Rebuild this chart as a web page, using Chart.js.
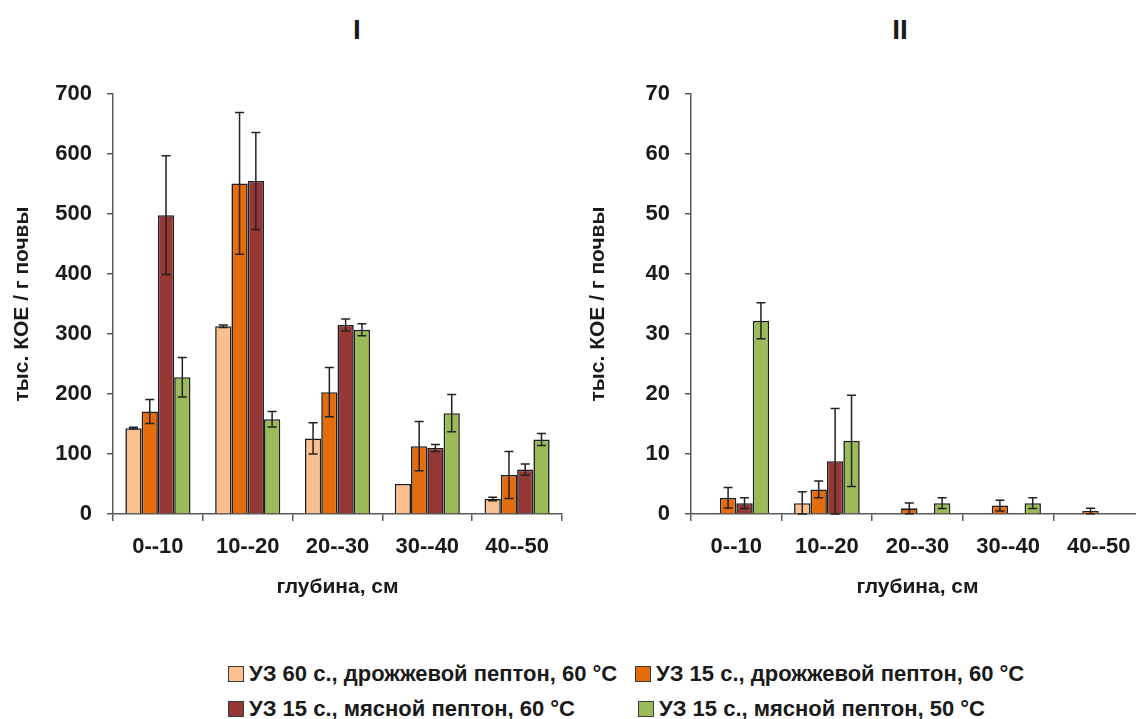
<!DOCTYPE html>
<html lang="ru">
<head>
<meta charset="utf-8">
<script src="https://cdn.jsdelivr.net/npm/chart.js@4.4.1/dist/chart.umd.min.js"></script>
<style>
  html, body { margin: 0; padding: 0; background: #fff; overflow: hidden; }
  body { width: 1136px; height: 719px; position: relative; font-family: "Liberation Sans", Arial, sans-serif; font-weight: bold; color: #1a1a1a; }
  .box { position: absolute; }
  .title { position: absolute; font-size: 28px; transform: translate(-50%, -50%); top: 30px; }
  .leg { position: absolute; font-size: 22px; white-space: nowrap; line-height: 24px; }
  .leg i { display: inline-block; width: 14px; height: 14px; border: 1px solid #3a3a3a; margin-right: 5px; vertical-align: -1px; }
</style>
</head>
<body>
<div class="title" style="left:357px">I</div>
<div class="title" style="left:900px">II</div>
<div class="box" style="left:0;top:0;width:580px;height:640px"><canvas id="chartI"></canvas></div>
<div class="box" style="left:576px;top:0;width:570px;height:640px"><canvas id="chartII"></canvas></div>
<div id="legend"></div>
<script>
"use strict";

const depths = ["0--10", "10--20", "20--30", "30--40", "40--50"];

const seriesNames = [
  "УЗ 60 с., дрожжевой пептон, 60 °C",
  "УЗ 15 с., дрожжевой пептон, 60 °C",
  "УЗ 15 с., мясной пептон, 60 °C",
  "УЗ 15 с., мясной пептон, 50 °C"
];
const seriesColors = ["#FAC090", "#E46C0A", "#953735", "#9BBB59"];

// I
const yeast60I = [143, 313, 126, 50, 25];
const yeast15I = [171, 551, 203, 113, 65];
const meat60I = [498, 555, 315, 110, 74];
const meat50I = [228, 158, 307, 168, 124];
const yeast60IErr = [1.5, 2, 26, 0, 3];
const yeast15IErr = [20, 118, 41, 41, 39];
const meat60IErr = [99, 81, 10, 6, 9.5];
const meat50IErr = [33, 13, 10, 31, 10];

// II
const yeast60II = [null, 1.8, null, null, null];
const yeast15II = [2.7, 4.1, 0.95, 1.4, 0.5];
const meat60II = [1.8, 8.8, null, null, null];
const meat50II = [32.2, 12.2, 1.8, 1.8, null];
const yeast60IIErr = [0, 1.9, 0, 0, 0];
const yeast15IIErr = [1.7, 1.4, 0.9, 0.9, 0.45];
const meat60IIErr = [0.9, 8.8, 0, 0, 0];
const meat50IIErr = [3, 7.6, 0.9, 0.9, 0];

const yTicksI = [0, 100, 200, 300, 400, 500, 600, 700];
const yTicksII = [0, 10, 20, 30, 40, 50, 60, 70];

const FONT = "'Liberation Sans', Arial, sans-serif";
const AXIS = "#5a5a5a";
const INK = "#1a1a1a";

const errorBars = {
  id: "errorBars",
  afterDatasetsDraw(chart) {
    const ctx = chart.ctx;
    const y = chart.scales.y;
    ctx.save();
    ctx.strokeStyle = "#222";
    ctx.lineWidth = 1.5;
    chart.data.datasets.forEach((ds, i) => {
      const meta = chart.getDatasetMeta(i);
      meta.data.forEach((bar, j) => {
        const v = ds.data[j];
        const e = ds.errors[j];
        if (v == null || !e) return;
        const top = y.getPixelForValue(v + e);
        const bottom = y.getPixelForValue(Math.max(v - e, 0));
        ctx.beginPath();
        ctx.moveTo(bar.x, top);
        ctx.lineTo(bar.x, bottom);
        ctx.moveTo(bar.x - 4.5, top);
        ctx.lineTo(bar.x + 4.5, top);
        ctx.moveTo(bar.x - 4.5, bottom);
        ctx.lineTo(bar.x + 4.5, bottom);
        ctx.stroke();
      });
    });
    ctx.restore();
  }
};

function makeChart(id, values, errors, ticks, yWidth, padRight) {
  const datasets = values.map((data, i) => ({
    label: seriesNames[i],
    data: data,
    errors: errors[i],
    backgroundColor: seriesColors[i],
    borderColor: "#1e1e1e",
    borderWidth: 1.6,
    categoryPercentage: 0.725,
    barPercentage: 1
  }));

  return new Chart(document.getElementById(id), {
    type: "bar",
    data: { labels: depths, datasets: datasets },
    plugins: [errorBars],
    options: {
      responsive: true,
      maintainAspectRatio: false,
      animation: false,
      layout: { padding: { top: 94, left: 0, right: padRight, bottom: 0 } },
      plugins: {
        legend: { display: false },
        tooltip: { enabled: false }
      },
      scales: {
        x: {
          afterFit: scale => { scale.height = 126; },
          grid: { display: true, drawOnChartArea: false, tickLength: 7, color: AXIS, lineWidth: 1.5 },
          border: { color: AXIS, width: 1.5 },
          ticks: { color: INK, font: { family: FONT, size: 22, weight: "bold" }, padding: 13 },
          title: {
            display: true,
            text: "глубина, см",
            color: INK,
            font: { family: FONT, size: 21, weight: "bold" },
            padding: { top: 0, bottom: 40 }
          }
        },
        y: {
          min: ticks[0],
          max: ticks[ticks.length - 1],
          afterFit: scale => { scale.width = yWidth; },
          afterBuildTicks: scale => { scale.ticks = ticks.map(v => ({ value: v })); },
          grid: { display: true, drawOnChartArea: false, tickLength: 6, color: AXIS, lineWidth: 1.5 },
          border: { color: AXIS, width: 1.5 },
          ticks: { color: INK, font: { family: FONT, size: 22, weight: "bold" }, padding: 15 },
          title: {
            display: true,
            text: "тыс. КОЕ / г почвы",
            color: INK,
            font: { family: FONT, size: 21, weight: "bold" },
            padding: { top: 10, bottom: 0 }
          }
        }
      }
    }
  });
}

makeChart("chartI",
  [yeast60I, yeast15I, meat60I, meat50I],
  [yeast60IErr, yeast15IErr, meat60IErr, meat50IErr],
  yTicksI, 113, 18);

makeChart("chartII",
  [yeast60II, yeast15II, meat60II, meat50II],
  [yeast60IIErr, yeast15IIErr, meat60IIErr, meat50IIErr],
  yTicksII, 115, 2);

// legend, two rows
const legendPos = [[228, 662], [635, 662], [228, 697], [638, 697]];
const legend = document.getElementById("legend");
seriesNames.forEach((name, i) => {
  const el = document.createElement("div");
  el.className = "leg";
  el.style.left = legendPos[i][0] + "px";
  el.style.top = legendPos[i][1] + "px";
  el.innerHTML = '<i style="background:' + seriesColors[i] + '"></i>' + name;
  legend.appendChild(el);
});
</script>
</body>
</html>
